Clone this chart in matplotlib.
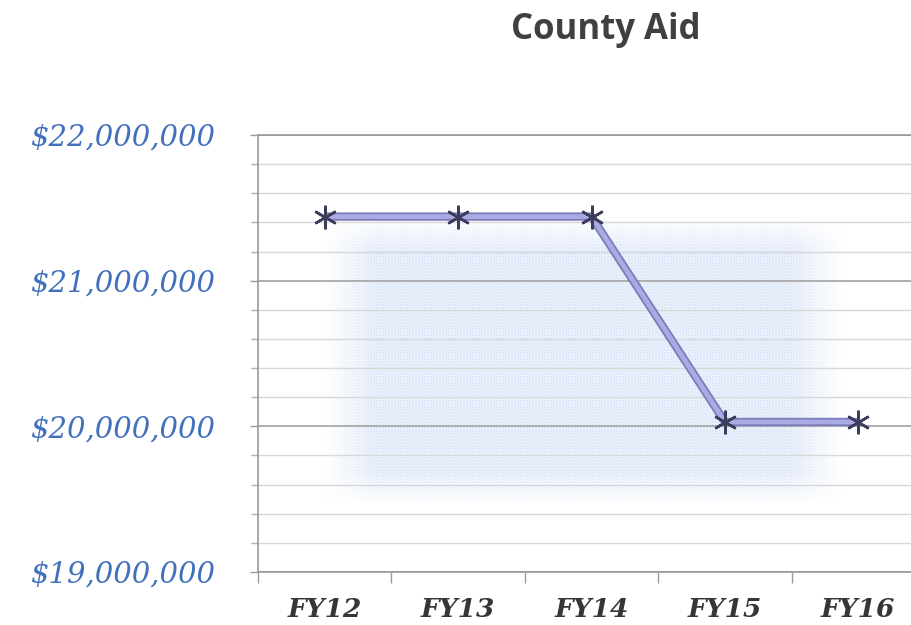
import numpy as np
import matplotlib
matplotlib.use("Agg")
import matplotlib.pyplot as plt
import matplotlib.patheffects as pe
from matplotlib.ticker import MultipleLocator, FuncFormatter

# County aid by fiscal year
categories = ["FY12", "FY13", "FY14", "FY15", "FY16"]
aid = [21440000, 21440000, 21440000, 20030000, 20030000]
y_ticks = [19000000, 20000000, 21000000, 22000000]

W, H, DPI = 912, 625, 100
fig = plt.figure(figsize=(W / DPI, H / DPI), dpi=DPI)
fig.patch.set_facecolor("white")

ax_left, ax_right = 258 / W, 925 / W
ax_bottom, ax_top = 1 - 572 / H, 1 - 135 / H
ax = fig.add_axes([ax_left, ax_bottom, ax_right - ax_left, ax_top - ax_bottom])
ax.set_facecolor("white")

x = np.arange(len(categories))
ax.set_xlim(-0.5, len(categories) - 0.5)
ax.set_ylim(y_ticks[0], y_ticks[-1])

# soft, dotted blue haze behind the series
pw, ph = 667, 437
xx, yy = np.meshgrid(np.arange(pw), np.arange(ph))
def soft_box(v, lo, hi, soft):
    a = np.clip((v - lo) / soft, 0, 1)
    b = np.clip((hi - v) / soft, 0, 1)
    return a * b
mask = soft_box(xx, 65, 585, 50) * soft_box(yy, 80, 370, 35)
dots = ((xx + yy) % 3 == 0) | ((xx - yy) % 3 == 0)
alpha = mask * np.where(dots, 0.5, 0.2)
img = np.zeros((ph, pw, 4))
img[..., 0] = 0.74
img[..., 1] = 0.81
img[..., 2] = 0.95
img[..., 3] = alpha
ax.imshow(img, extent=[0, 1, 0, 1], transform=ax.transAxes, aspect="auto",
          interpolation="nearest", zorder=0.5, origin="upper")

# gridlines
ax.yaxis.set_major_locator(MultipleLocator(1000000))
ax.yaxis.set_minor_locator(MultipleLocator(200000))
ax.grid(which="major", axis="y", color="#a8a8a8", linewidth=1.3, zorder=1)
ax.grid(which="minor", axis="y", color="#d8d8d8", linewidth=1.0, zorder=1)
ax.set_axisbelow(True)

# series line with a darker rim
line, = ax.plot(x, aid, color="#aaaae4", linewidth=3.4, zorder=3,
                solid_capstyle="butt", solid_joinstyle="round")
line.set_path_effects([pe.Stroke(linewidth=6, foreground="#7c7cb8"), pe.Normal()])
ax.plot(x, aid, linestyle="none", marker=(6, 2, 0), markersize=17,
        markeredgewidth=1.8, markeredgecolor="#3c3c5c", zorder=4)

# axes styling
for side in ["left", "bottom", "top"]:
    ax.spines[side].set_color("#9a9a9a")
    ax.spines[side].set_linewidth(1.2)
ax.spines["right"].set_visible(False)

ax.set_yticks(y_ticks)
ax.yaxis.set_major_formatter(FuncFormatter(lambda v, p: "\\$" + f"{int(v):,}"))
ax.tick_params(axis="y", which="major", length=6, width=1, color="#9a9a9a",
               pad=25, labelsize=21, labelcolor="#4270bc")
ax.tick_params(axis="y", which="minor", length=5, width=1, color="#b0b0b0")
for lab in ax.get_yticklabels():
    lab.set_fontfamily("DejaVu Serif")
    lab.set_fontstyle("italic")

ax.set_xticks(x)
ax.set_xticklabels(categories, fontfamily="DejaVu Serif", fontstyle="italic",
                   fontweight="bold", fontsize=19, color="#363636")
ax.tick_params(axis="x", which="major", length=0, pad=18)
ax.set_xticks(np.arange(len(categories) + 1) - 0.5, minor=True)
ax.tick_params(axis="x", which="minor", length=8, width=1, color="#9a9a9a")

fig.text(606 / W, 1 - 30 / H, "County Aid", ha="center", va="center",
         fontsize=25, fontweight="bold", color="#404040", family="Open Sans")

fig.savefig("out.png", dpi=DPI, facecolor="white")
